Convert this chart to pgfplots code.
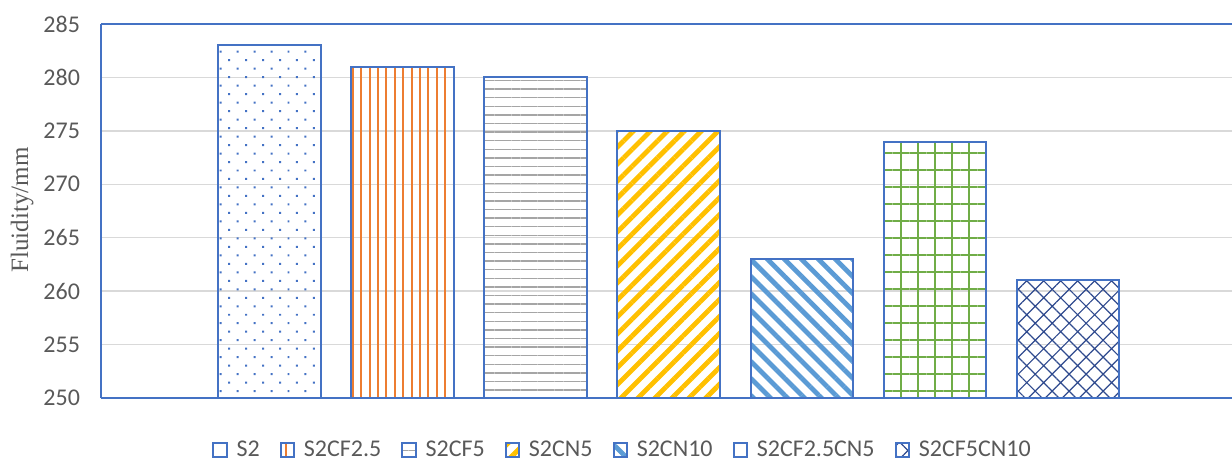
\documentclass[border=0pt]{standalone}
\usepackage{fontspec}
\setmainfont{Carlito}
\newfontfamily\serif{Liberation Serif}
\usepackage{pgfplots}
\pgfplotsset{compat=1.18}
\usetikzlibrary{patterns.meta}

\definecolor{xblue}{HTML}{4472C4}
\definecolor{xorange}{HTML}{ED7D31}
\definecolor{xgray}{HTML}{A5A5A5}
\definecolor{xgold}{HTML}{FFC000}
\definecolor{xsky}{HTML}{5B9BD5}
\definecolor{xgreen}{HTML}{70AD47}
\definecolor{xnavy}{HTML}{2F4A8E}
\definecolor{gridgray}{HTML}{D9D9D9}
\definecolor{txt}{HTML}{595959}

\begin{document}
\begin{tikzpicture}
\begin{axis}[
  scale only axis,
  width=565.5pt, height=187pt,
  xmin=-0.27, xmax=8.233,
  ymin=250, ymax=285,
  ytick={250,255,...,285},
  xtick=\empty,
  major tick length=0pt,
  ymajorgrids,
  grid style={draw=gridgray, line width=0.75pt},
  separate axis lines,
  axis x line*=box,
  axis y line*=left,
  axis line style={draw=xblue, line width=1pt},
  ticklabel style={font=\fontsize{12}{14}\selectfont, text=txt},
  yticklabel style={xshift=-7pt},
  /pgf/number format/assume math mode=true,
  every axis y label/.style={at={(axis description cs:-0.0698,0.503)}, rotate=90, anchor=center},
  ylabel={\serif\fontsize{12.5}{14}\selectfont\color{txt}Fluidity/mm},
  ybar, bar shift=0pt, bar width=0.774,
  every axis plot/.append style={draw=xblue, line width=1pt},
  legend columns=-1,
  legend style={at={(0.462,-0.139)}, anchor=center, draw=none, fill=none,
    font=\fontsize{12}{14}\selectfont, text=txt,
    /tikz/every even column/.append style={column sep=8pt},
    /tikz/every odd column/.append style={column sep=2.5pt}},
  legend image code/.code={\draw[#1, line width=1pt] (0pt,-3.3pt) rectangle (6.6pt,3.3pt);},
]
\coordinate (bl) at (rel axis cs:0,0);
\coordinate (tr) at (rel axis cs:1,1);

% S2: staggered dots
\addplot[pattern={Dots[angle=45,distance=6pt,radius=0.7pt]}, pattern color=xblue]
  coordinates {(1,283)};
\addlegendentry{S2}
% S2CF2.5: vertical lines
\addplot[pattern={Lines[angle=90,distance=4.2pt,line width=1pt]}, pattern color=xorange]
  coordinates {(2,281)};
\addlegendentry{S2CF2.5}
% S2CF5: horizontal lines
\addplot[pattern={Lines[angle=0,distance=4.3pt,line width=0.7pt]}, pattern color=xgray]
  coordinates {(3,280)};
\addlegendentry{S2CF5}
% S2CN5: wide upward diagonals
\addplot[pattern={Lines[angle=45,distance=6pt,line width=2.4pt]}, pattern color=xgold]
  coordinates {(4,275)};
\addlegendentry{S2CN5}
% S2CN10: wide downward diagonals
\addplot[pattern={Lines[angle=-45,distance=6pt,line width=2.4pt]}, pattern color=xsky]
  coordinates {(5,263)};
\addlegendentry{S2CN10}
% S2CF2.5CN5: square grid
\addplot[pattern={Hatch[angle=0,distance=8.5pt,line width=1pt]}, pattern color=xgreen]
  coordinates {(6,274)};
\addlegendentry{S2CF2.5CN5}
% S2CF5CN10: diagonal trellis
\addplot[pattern={Hatch[angle=45,distance=6pt,line width=0.6pt]}, pattern color=xnavy]
  coordinates {(7,261)};
\addlegendentry{S2CF5CN10}
\end{axis}
\pgfresetboundingbox
\path ([xshift=-50.5pt,yshift=-30.5pt]bl) rectangle ([yshift=12pt]tr);
\end{tikzpicture}
\end{document}
